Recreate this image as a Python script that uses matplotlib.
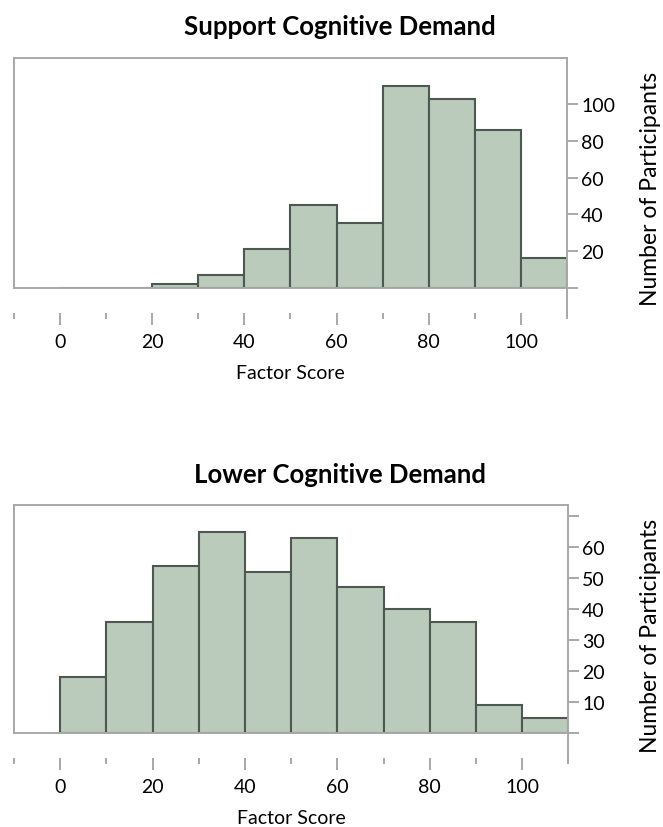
import matplotlib
matplotlib.use("Agg")
import matplotlib.pyplot as plt

plt.rcParams['font.family'] = ['Lato', 'DejaVu Sans']

# bins are 10 wide, left edges below
bin_left = [0, 10, 20, 30, 40, 50, 60, 70, 80, 90, 100]

support_counts = [0, 0, 2, 7, 21, 45, 35, 110, 103, 86, 16]
lower_counts = [18, 36, 54, 65, 52, 63, 47, 40, 36, 9, 5]

support_yticks = [0, 20, 40, 60, 80, 100]
support_ylabels = ["", "20", "40", "60", "80", "100"]
lower_yticks = [0, 10, 20, 30, 40, 50, 60, 70]
lower_ylabels = ["", "10", "20", "30", "40", "50", "60", ""]

x_major = [0, 20, 40, 60, 80, 100]
x_minor = [-10, 10, 30, 50, 70, 90, 110]

fill = "#bacabb"
edge = "#4d5850"
frame = "#a8a8a8"


def draw_hist(ax, counts, ymax, yticks, ylabels):
    ax.bar(bin_left, counts, width=10, align='edge', color=fill,
           edgecolor=edge, linewidth=1.5, zorder=2)
    ax.set_xlim(-10, 110)
    ax.set_ylim(0, ymax)

    for s in ['left', 'top', 'right']:
        ax.spines[s].set_color(frame)
        ax.spines[s].set_linewidth(1.4)
    ax.spines['bottom'].set_position(('outward', 18))
    ax.spines['bottom'].set_visible(False)
    ax.axhline(0, color=frame, lw=1.4, zorder=3, clip_on=False)
    # right line runs down into the tick row
    ax.plot([1, 1], [0, -0.125], transform=ax.transAxes, color=frame,
            lw=1.4, clip_on=False)

    ax.set_xticks(x_major)
    ax.set_xticks(x_minor, minor=True)
    ax.tick_params(axis='x', which='major', length=8.5, width=1.4,
                   color=frame, labelsize=14, pad=6)
    ax.tick_params(axis='x', which='minor', length=4, width=1.4, color=frame)
    ax.set_xlabel("Factor Score", fontsize=14, labelpad=10)

    ax.yaxis.tick_right()
    ax.set_yticks(yticks)
    ax.set_yticklabels(ylabels)
    ax.tick_params(axis='y', length=8, width=1.4, color=frame,
                   labelsize=14, pad=2)


fig = plt.figure(figsize=(6.63, 8.28), dpi=100)

ax1 = fig.add_axes([0.0205, 0.6513, 0.835, 0.2771])
draw_hist(ax1, support_counts, 125, support_yticks, support_ylabels)
fig.text(0.513, 0.967, "Support Cognitive Demand", ha='center', va='center',
         fontsize=18.5, fontweight='bold')
fig.text(0.981, 0.772, "Number of Participants", rotation=90, ha='center',
         va='center', fontsize=16.5)

ax2 = fig.add_axes([0.0211, 0.1132, 0.836, 0.2761])
draw_hist(ax2, lower_counts, 73.7, lower_yticks, lower_ylabels)
fig.text(0.513, 0.426, "Lower Cognitive Demand", ha='center', va='center',
         fontsize=18.5, fontweight='bold')
fig.text(0.981, 0.232, "Number of Participants", rotation=90, ha='center',
         va='center', fontsize=16.5)

fig.savefig("out.png", dpi=100)
